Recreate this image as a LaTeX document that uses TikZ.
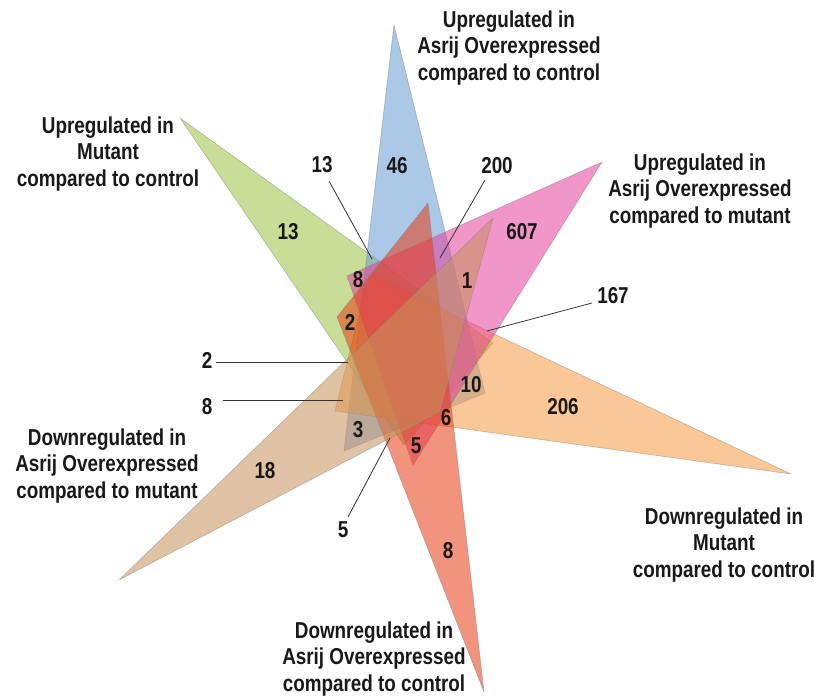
\documentclass[tikz,border=0pt]{standalone}
\usepackage{fontspec}
\newfontfamily\labfont{Liberation Sans}[FakeStretch=0.82]
\definecolor{cgreen}{RGB}{155,195,64}
\definecolor{cblue}{RGB}{104,155,213}
\definecolor{cpink}{RGB}{228,64,155}
\definecolor{corange}{RGB}{246,155,64}
\definecolor{csalmon}{RGB}{230,60,20}
\definecolor{ctan}{RGB}{200,146,91}
\begin{document}
\begin{tikzpicture}[x=1pt,y=-1pt,
  tri/.style={fill opacity=0.55, draw=black!50, draw opacity=0.45, line width=0.7pt, line join=round},
  num/.style={font=\labfont\bfseries\fontsize{23}{26}\selectfont, inner sep=0pt, text=black!90},
  setlab/.style={font=\labfont\bfseries\fontsize{23}{26.5}\selectfont, inner sep=0pt, align=center, text=black!90},
  leader/.style={draw=black!80, line width=0.8pt}]
\useasboundingbox[fill=white] (0,0) rectangle (825,700);
% vertices
\coordinate (G0) at (180,118); \coordinate (G1) at (493,343); \coordinate (G2) at (404,445);
\coordinate (T0) at (119,580); \coordinate (T1) at (493,218); \coordinate (T2) at (440,412);
\coordinate (B0) at (394,25);  \coordinate (B1) at (344,451); \coordinate (B2) at (485,393);
\coordinate (O0) at (791,474); \coordinate (O1) at (369,275); \coordinate (O2) at (335,411);
\coordinate (P0) at (602,162); \coordinate (P1) at (347,276); \coordinate (P2) at (413,465);
\coordinate (S0) at (484,692); \coordinate (S1) at (428,203); \coordinate (S2) at (337,317);
% triangles
\draw[tri, fill=cgreen] (G0) -- (G1) -- (G2) -- cycle;
\draw[tri, fill=cblue] (B0) -- (B1) -- (B2) -- cycle;
\draw[tri, fill=corange] (O0) -- (O1) -- (O2) -- cycle;
\draw[tri, fill=cpink] (P0) -- (P1) -- (P2) -- cycle;
\draw[tri, fill=csalmon] (S0) -- (S1) -- (S2) -- cycle;
\draw[tri, fill=ctan] (T0) -- (T1) -- (T2) -- cycle;
% set labels
\node[setlab] (lbA) at (509,48) {Upregulated in\\Asrij Overexpressed\\compared to control};
\node[setlab] (lbB) at (108,154) {Upregulated in\\Mutant\\compared to control};
\node[setlab] (lbC) at (700,191) {Upregulated in\\Asrij Overexpressed\\compared to mutant};
\node[setlab] (lbD) at (107,466) {Downregulated in\\Asrij Overexpressed\\compared to mutant};
\node[setlab] (lbE) at (724,545) {Downregulated in\\Mutant\\compared to control};
\node[setlab] (lbF) at (374,659) {Downregulated in\\Asrij Overexpressed\\compared to control};
% region numbers
\node[num] (n46) at (397,166) {46};
\node[num] (n13g) at (288,232) {13};
\node[num] (n607) at (522,232) {607};
\node[num] (n8a) at (358,280) {8};
\node[num] (n1) at (467,281) {1};
\node[num] (n2a) at (350,322) {2};
\node[num] (n10) at (471,385) {10};
\node[num] (n6) at (446,418) {6};
\node[num] (n3) at (358,430) {3};
\node[num] (n5a) at (416,446) {5};
\node[num] (n206) at (563,407) {206};
\node[num] (n18) at (265,471) {18};
\node[num] (n8s) at (448,551) {8};
% leader labels
\node[num] (n13l) at (322,165) {13};
\node[num] (n200) at (497,166) {200};
\node[num] (n167) at (613,296) {167};
\node[num] (n2l) at (207,360) {2};
\node[num] (n8l) at (207,407) {8};
\node[num] (n5l) at (343,530) {5};
% leader endpoints
\coordinate (a13) at (329,181); \coordinate (b13) at (372,259);
\coordinate (a200) at (485,180); \coordinate (b200) at (440,258);
\coordinate (a167) at (592,303); \coordinate (b167) at (487,331);
\coordinate (a2) at (216,362); \coordinate (b2) at (348,362);
\coordinate (a8) at (223,400); \coordinate (b8) at (343,400);
\coordinate (a5) at (348,517); \coordinate (b5) at (390,438);
\draw[leader] (a13) -- (b13);
\draw[leader] (a200) -- (b200);
\draw[leader] (a167) -- (b167);
\draw[leader] (a2) -- (b2);
\draw[leader] (a8) -- (b8);
\draw[leader] (a5) -- (b5);
\end{tikzpicture}
\end{document}
